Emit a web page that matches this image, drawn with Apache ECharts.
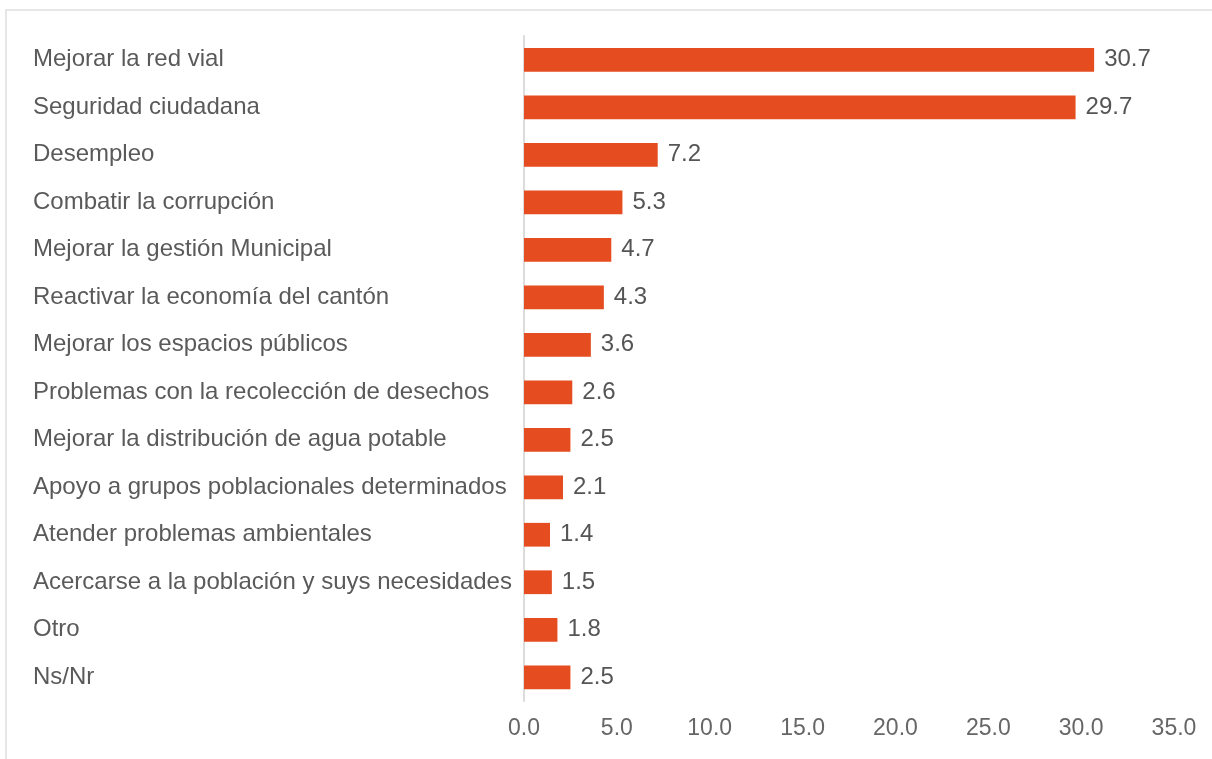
<!DOCTYPE html>
<html><head><meta charset="utf-8">
<script src="https://cdn.jsdelivr.net/npm/echarts@6/dist/echarts.min.js"></script>
<style>
html,body{margin:0;padding:0;background:#fff;}
#c{position:absolute;left:5px;top:9px;width:1212px;height:760px;border-left:2px solid #e6e6e6;border-top:2px solid #e6e6e6;box-sizing:border-box;}
</style></head>
<body><div id="c"></div>
<script>
const categories = ["Mejorar la red vial","Seguridad ciudadana","Desempleo","Combatir la corrupción","Mejorar la gestión Municipal","Reactivar la economía del cantón","Mejorar los espacios públicos","Problemas con la recolección de desechos","Mejorar la distribución de agua potable","Apoyo a grupos poblacionales determinados","Atender problemas ambientales","Acercarse a la población y suys necesidades","Otro","Ns/Nr"];
const values = [30.7,29.7,7.2,5.3,4.7,4.3,3.6,2.6,2.5,2.1,1.4,1.5,1.8,2.5];
const xTicks = [0,5,10,15,20,25,30,35];

const chart = echarts.init(document.getElementById('c'));
const font = '"Liberation Sans", Arial, sans-serif';
chart.setOption({
  animation:false,
  grid:{left:517,right:43,top:25,bottom:68,containLabel:false},
  xAxis:{type:'value',min:0,max:35,interval:5,
    axisLine:{show:false},axisTick:{show:false},splitLine:{show:false},
    axisLabel:{color:'#666',fontSize:23,fontFamily:font,margin:16,
      formatter:v=>v.toFixed(1)}},
  yAxis:{type:'category',data:categories,inverse:true,
    axisLine:{show:true,lineStyle:{color:'#dcdcdc',width:2}},
    axisTick:{show:false},
    axisLabel:{color:'#5a5a5a',fontSize:24,fontFamily:font,align:'left',margin:491}},
  series:[{type:'bar',data:values,barWidth:'50%',
    itemStyle:{color:'#e54c1f'},
    label:{show:true,position:'right',color:'#555',fontSize:24,fontFamily:font,distance:10,
      formatter:p=>p.value.toFixed(1)}}]
});
</script></body></html>
